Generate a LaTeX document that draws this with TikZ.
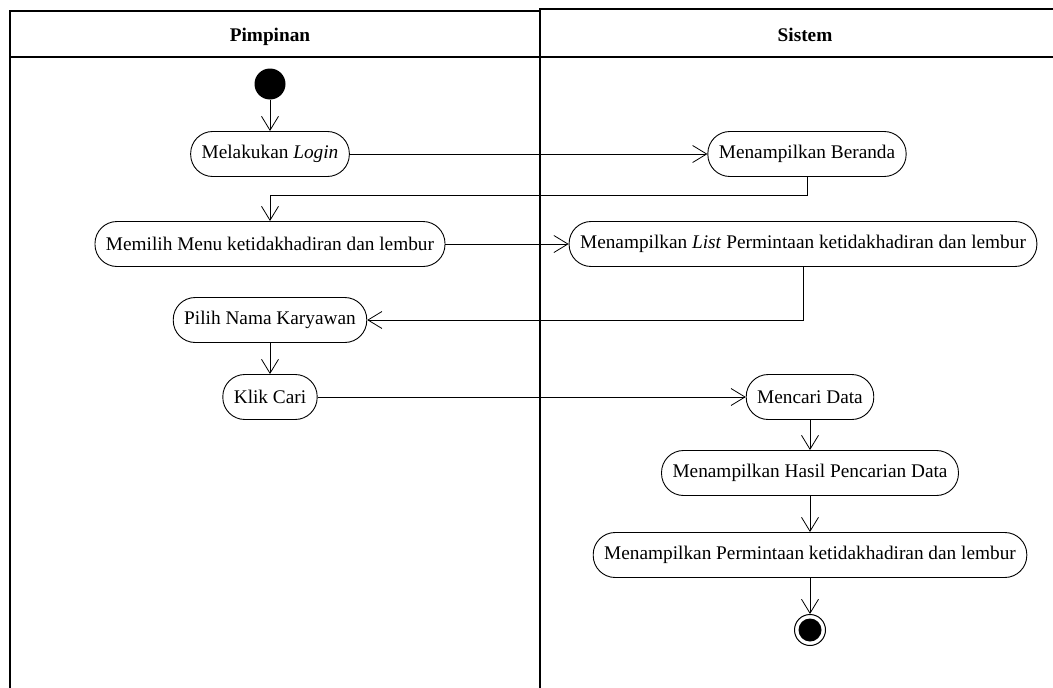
\documentclass[tikz,border=0pt]{standalone}
\usepackage{fontspec}
\setmainfont{Liberation Serif}
\usetikzlibrary{arrows.meta}

\begin{document}
\begin{tikzpicture}[x=1pt, y=-1pt,
    lane/.style={line width=1.3pt},
    head/.style={anchor=base, font=\fontsize{19.3}{23}\selectfont\bfseries},
    act/.style={draw, line width=0.9pt, rounded corners=22pt, minimum height=45pt,
                inner xsep=11pt, font=\fontsize{19.3}{23}\selectfont},
    flow/.style={line width=0.8pt, -{Straight Barb[length=14pt,width=17pt]}}]
    \useasboundingbox (0,0) rectangle (1053,688);

    \draw[lane] (10,688) -- (10,11) -- (540,11);
    \draw[lane] (540,688) -- (540,9) -- (1053,9);
    \draw[lane] (10,57) -- (1053,57);
    \node[head] (pimpinan) at (270,41) {Pimpinan};
    \node[head] (sistem)   at (805,41) {Sistem};

    \node[circle, fill, minimum size=31pt, inner sep=0pt] (mulai) at (270,84) {};
    \node[act] (login)   at (270,154) {Melakukan \textit{Login}};
    \node[act] (beranda) at (807,154) {Menampilkan Beranda};
    \node[act] (menu)    at (270,244) {Memilih Menu ketidakhadiran dan lembur};
    \node[act] (list)    at (803,244) {Menampilkan \textit{List} Permintaan ketidakhadiran dan lembur};
    \node[act] (pilih)   at (270,320) {Pilih Nama Karyawan};
    \node[act] (klik)    at (270,397) {Klik Cari};
    \node[act] (cari)    at (810,397) {Mencari Data};
    \node[act] (hasil)   at (810,473) {Menampilkan Hasil Pencarian Data};
    \node[act] (minta)   at (810,555) {Menampilkan Permintaan ketidakhadiran dan lembur};
    \node[circle, draw, line width=1pt, minimum size=31pt, inner sep=0pt] (selesai) at (810,630) {};
    \fill (selesai.center) circle (11.5pt);

    \draw[flow] (mulai) -- (login);
    \draw[flow] (login) -- (beranda);
    \draw[flow] (beranda.south) -- ++(0,18) -| (menu.north);
    \draw[flow] (menu) -- (list);
    \draw[flow] (list.south) |- (pilih.east);
    \draw[flow] (pilih) -- (klik);
    \draw[flow] (klik) -- (cari);
    \draw[flow] (cari) -- (hasil);
    \draw[flow] (hasil) -- (minta);
    \draw[flow] (minta) -- (selesai);
\end{tikzpicture}
\end{document}
